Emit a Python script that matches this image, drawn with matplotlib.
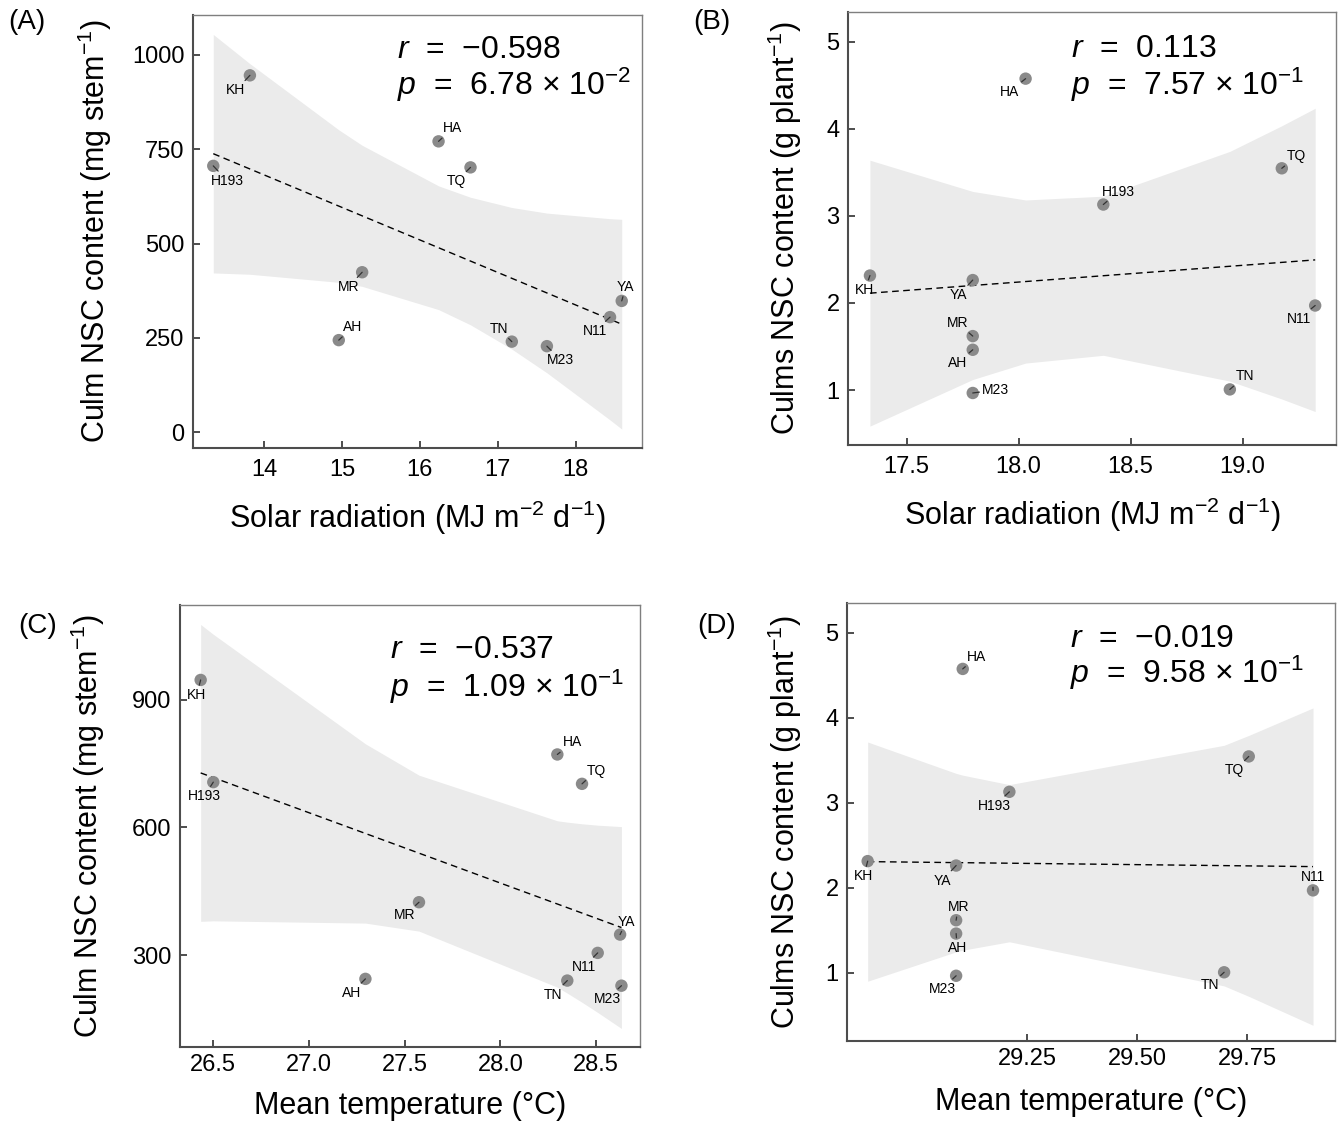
import numpy as np
import matplotlib
matplotlib.use("Agg")
import matplotlib.pyplot as plt

plt.rcParams['font.family'] = ['Liberation Sans', 'DejaVu Sans']
plt.rcParams['mathtext.fontset'] = 'custom'
plt.rcParams['mathtext.rm'] = 'Liberation Sans'
plt.rcParams['mathtext.it'] = 'Liberation Sans:italic'
plt.rcParams['mathtext.bf'] = 'Liberation Sans:bold'

# ---------------- data ----------------
varieties = ['KH', 'H193', 'HA', 'TQ', 'MR', 'AH', 'TN', 'M23', 'N11', 'YA']

# panels A & C (culm NSC content, mg stem-1)
culm_nsc_mg = [946, 706, 771, 702, 424, 244, 240, 228, 305, 348]
solar_A = [13.82, 13.35, 16.24, 16.65, 15.26, 14.96, 17.18, 17.63, 18.44, 18.59]
temp_C = [26.434, 26.50, 28.298, 28.427, 27.575, 27.295, 28.35, 28.633, 28.509, 28.626]

# panels B & D (culms NSC content, g plant-1)
culms_nsc_g = [2.315, 3.13, 4.575, 3.546, 1.62, 1.463, 1.008, 0.967, 1.971, 2.263]
solar_B = [17.336, 18.378, 18.031, 19.175, 17.795, 17.795, 18.943, 17.795, 19.324, 17.795]
temp_D = [28.888, 29.21, 29.104, 29.754, 29.089, 29.089, 29.698, 29.089, 29.90, 29.089]

stats_r = ['\u2212 0.598', '0.113', '\u2212 0.537', '\u2212 0.019']
stats_p = [('6.78', '-2'), ('7.57', '-1'), ('1.09', '-1'), ('9.58', '-1')]
panel_tags = ['(A)', '(B)', '(C)', '(D)']

xlab_solar = 'Solar radiation (MJ m$^{-2}$ d$^{-1}$)'
xlab_temp = 'Mean temperature (\u00b0C)'
ylab_mg = 'Culm NSC content (mg stem$^{-1}$)'
ylab_g = 'Culms NSC content (g plant$^{-1}$)'

T_CRIT = 2.306  # t(0.975, df = 8)

# ---------------- layout / style ----------------
W, H = 1340, 1127
fig = plt.figure(figsize=(W / 100, H / 100), dpi=100)


def add_axes(l, t, r, b):
    return fig.add_axes([l / W, 1 - b / H, (r - l) / W, (b - t) / H])


label_offsets = [
    {'KH': (-14, -15), 'H193': (14, -15), 'HA': (14, 13), 'TQ': (-14, -14), 'MR': (-14, -15),
     'AH': (14, 13), 'TN': (-13, 13), 'M23': (14, -14), 'N11': (-15, -14), 'YA': (4, 14)},
    {'HA': (-16, -13), 'TQ': (15, 12), 'H193': (15, 13), 'KH': (-5, -14), 'YA': (-14, -15),
     'N11': (-16, -13), 'MR': (-15, 13), 'AH': (-15, -13), 'M23': (23, 3), 'TN': (15, 13)},
    {'KH': (-4, -15), 'H193': (-9, -14), 'HA': (15, 12), 'TQ': (14, 13), 'MR': (-14, -13),
     'YA': (6, 13), 'N11': (-14, -14), 'AH': (-14, -14), 'TN': (-14, -14), 'M23': (-14, -13)},
    {'HA': (14, 12), 'TQ': (-14, -14), 'H193': (-15, -14), 'KH': (-4, -15), 'YA': (-14, -15),
     'N11': (0, 13), 'MR': (2, 13), 'AH': (1, -14), 'M23': (-14, -13), 'TN': (-14, -13)},
]

panels = [
    dict(box=(193, 15, 642, 448), x=solar_A, y=culm_nsc_mg, xlim=(13.09, 18.85), ylim=(-42, 1106),
         xticks=[14, 15, 16, 17, 18], xfmt='%d', yticks=[0, 250, 500, 750, 1000], yfmt='%d',
         xlab=xlab_solar, ylab=ylab_mg, ylab_x=-0.218, xlab_y=-0.162,
         txt=(397, 58, 95), tag=(8, 22), xpad=8),
    dict(box=(848, 12, 1336, 445), x=solar_B, y=culms_nsc_g, xlim=(17.238, 19.417), ylim=(0.37, 5.34),
         xticks=[17.5, 18.0, 18.5, 19.0], xfmt='%.1f', yticks=[1, 2, 3, 4, 5], yfmt='%d',
         xlab=xlab_solar, ylab=ylab_g, ylab_x=-0.129, xlab_y=-0.162,
         txt=(1071, 57, 95), tag=(693, 22), xpad=8),
    dict(box=(180, 605, 640, 1047), x=temp_C, y=culm_nsc_mg, xlim=(26.326, 28.73), ylim=(84, 1122),
         xticks=[26.5, 27.0, 27.5, 28.0, 28.5], xfmt='%.1f', yticks=[300, 600, 900], yfmt='%d',
         xlab=xlab_temp, ylab=ylab_mg, ylab_x=-0.2, xlab_y=-0.133,
         txt=(390, 658, 697), tag=(18, 626), xpad=5),
    dict(box=(847, 603, 1335, 1041), x=temp_D, y=culms_nsc_g, xlim=(28.841, 29.95), ylim=(0.2, 5.35),
         xticks=[29.25, 29.5, 29.75], xfmt='%.2f', yticks=[1, 2, 3, 4, 5], yfmt='%d',
         xlab=xlab_temp, ylab=ylab_g, ylab_x=-0.127, xlab_y=-0.139,
         txt=(1070, 647, 683), tag=(697, 626), xpad=5),
]

for i, pn in enumerate(panels):
    ax = add_axes(*pn['box'])
    x = np.asarray(pn['x'], float)
    y = np.asarray(pn['y'], float)
    n = len(x)
    b1, b0 = np.polyfit(x, y, 1)
    resid = y - (b0 + b1 * x)
    s = np.sqrt(np.sum(resid ** 2) / (n - 2))
    xbar = x.mean()
    sxx = np.sum((x - xbar) ** 2)
    xs = np.unique(x)
    fit = b0 + b1 * xs
    hw = T_CRIT * s * np.sqrt(1 / n + (xs - xbar) ** 2 / sxx)

    ax.fill_between(xs, fit - hw, fit + hw, color='#ebebeb', lw=0, zorder=1)
    ax.plot(xs[[0, -1]], fit[[0, -1]], color='black', lw=1.0, dashes=(4.8, 3.2), zorder=2)
    ax.scatter(x, y, s=80, color='#8a8a8a', edgecolors='none', zorder=3)

    offs = label_offsets[i]
    for name, xi, yi in zip(varieties, x, y):
        dx, dy = offs[name]
        ax.annotate(name, xy=(xi, yi), xytext=(dx, dy), textcoords='offset pixels',
                    ha='center', va='center', fontsize=10, color='black', zorder=4,
                    arrowprops=dict(arrowstyle='-', color='#333333', lw=0.9,
                                    shrinkA=0, shrinkB=0))

    ax.set_xlim(*pn['xlim'])
    ax.set_ylim(*pn['ylim'])
    ax.set_xticks(pn['xticks'])
    ax.set_xticklabels([pn['xfmt'] % v for v in pn['xticks']])
    ax.set_yticks(pn['yticks'])
    ax.set_yticklabels([pn['yfmt'] % v for v in pn['yticks']])
    ax.tick_params(direction='in', length=5, width=1.4, color='#4d4d4d',
                   labelsize=17, labelcolor='black')
    ax.tick_params(axis='y', pad=6)
    ax.tick_params(axis='x', pad=pn['xpad'])

    for side in ['left', 'bottom']:
        ax.spines[side].set_color('#4d4d4d')
        ax.spines[side].set_linewidth(1.5)
    for side in ['top', 'right']:
        ax.spines[side].set_color('#7f7f7f')
        ax.spines[side].set_linewidth(1.0)

    ax.set_xlabel(pn['xlab'], fontsize=22)
    ax.set_ylabel(pn['ylab'], fontsize=22)
    ax.xaxis.set_label_coords(0.5, pn['xlab_y'])
    ax.yaxis.set_label_coords(pn['ylab_x'], 0.5)
    ax.xaxis.label.set_verticalalignment('center')
    ax.yaxis.label.set_verticalalignment('center')

    tx, ty1, ty2 = pn['txt']
    rtxt = stats_r[i].replace('\u2212 ', '\u2212')
    fig.text(tx / W, 1 - ty1 / H, '$\\mathit{r}$  =  ' + rtxt, fontsize=23,
             ha='left', va='baseline')
    mant, expo = stats_p[i]
    fig.text(tx / W, 1 - ty2 / H, '$\\mathit{p}$  =  ' + mant + ' \u00d7 10$^{' + expo + '}$',
             fontsize=23, ha='left', va='baseline')
    gx, gy = pn['tag']
    fig.text(gx / W, 1 - gy / H, panel_tags[i], fontsize=20, ha='left', va='center')

fig.savefig('out.png', dpi=100)
